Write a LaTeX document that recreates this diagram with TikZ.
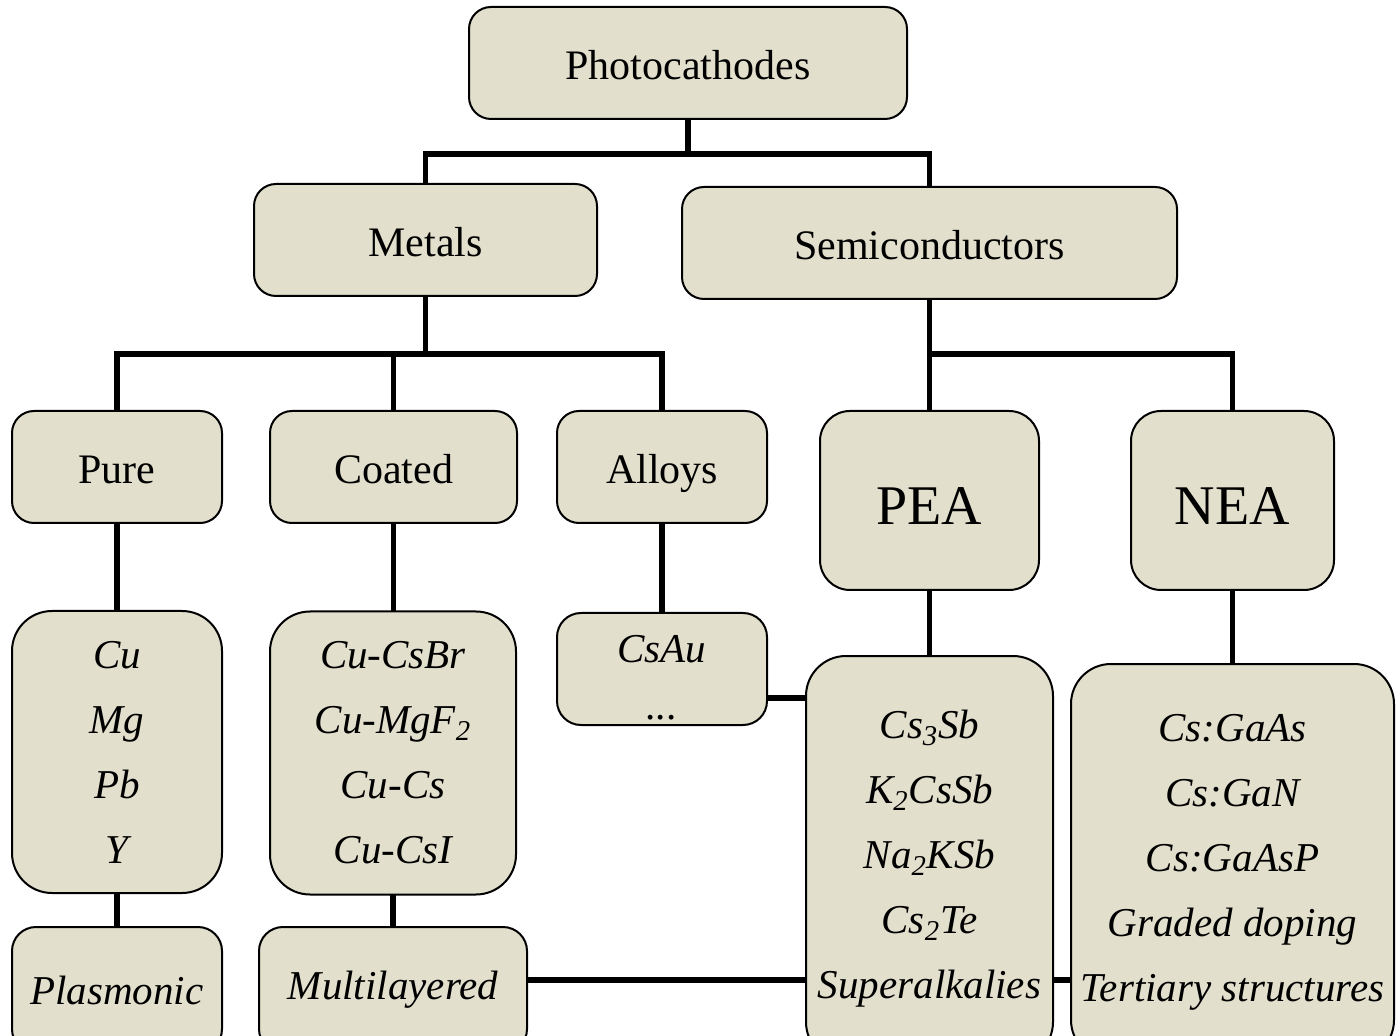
\documentclass[tikz,border=0pt]{standalone}
\usepackage{fontspec}
\setmainfont{Liberation Serif}
\usetikzlibrary{backgrounds}
\definecolor{boxfill}{RGB}{226,223,204}
\tikzset{
  basebox/.style={draw=black, line width=1pt, fill=boxfill, rounded corners=11pt, inner sep=0pt, align=center},
  box/.style={basebox, font=\fontsize{21}{26}\selectfont, text height=20pt, text depth=3pt},
  listbox/.style={basebox, rounded corners=20pt, font=\fontsize{20.5}{32.5}\selectfont\itshape},
  bigbox/.style={basebox, rounded corners=15pt, font=\fontsize{28}{34}\selectfont, text height=28pt, text depth=3.5pt},
  conn/.style={line width=2.6pt, line cap=rect},
  sz/.style 2 args={minimum width=#1*0.5pt, minimum height=#2*0.5pt},
}
\begin{document}
\begin{tikzpicture}[x=0.5pt, y=-0.5pt]
\path[use as bounding box, clip] (0,0) rectangle (1396,1036);
\node[box, sz={438}{112}] (photo) at (688,63) {Photocathodes};
\node[box, sz={343}{112}] (metals) at (425.5,240) {Metals};
\node[box, sz={495}{112}] (semi) at (929.5,243) {Semiconductors};
\node[box, sz={210}{112}] (pure) at (117,467) {Pure};
\node[box, sz={247}{112}] (coated) at (393.5,467) {Coated};
\node[box, sz={210}{112}] (alloys) at (662,467) {Alloys};
\node[bigbox, sz={219}{179}] (pea) at (929.5,500.5) {PEA};
\node[bigbox, sz={203}{179}] (nea) at (1232.5,500.5) {NEA};
\node[listbox, sz={210}{282}] (culist) at (117,752) {Cu\\Mg\\Pb\\Y};
\node[listbox, sz={246}{283}] (coatlist) at (393,753) {Cu-CsBr\\Cu-MgF\textsubscript{2}\\Cu-Cs\\Cu-CsI};
\node[listbox, rounded corners=12pt, font=\fontsize{20.5}{28.5}\selectfont\itshape, sz={210}{112}] (csau) at (662,669) {\rule{0pt}{22pt}CsAu\\...};
\node[listbox, sz={247}{406}] (pealist) at (929.5,859) {Cs\textsubscript{3}Sb\\K\textsubscript{2}CsSb\\Na\textsubscript{2}KSb\\Cs\textsubscript{2}Te\\Superalkalies};
\node[listbox, sz={323}{396}] (nealist) at (1232.5,862) {Cs:GaAs\\Cs:GaN\\Cs:GaAsP\\Graded doping\\Tertiary structures};
\node[listbox, rounded corners=12pt, sz={210}{126}] (plasm) at (117,990) {Plasmonic};
\node[listbox, rounded corners=12pt, sz={268}{126}] (multi) at (393,990) {Multilayered};
\begin{scope}[on background layer]
\draw[conn] (photo.south) -- ++(0,34) -| (metals.north);
\draw[conn] (photo.south) -- ++(0,34) -| (semi.north);
\draw[conn] (metals.south) -- ++(0,57) -| (pure.north);
\draw[conn] (metals.south) -- ++(0,57) -| (coated.north);
\draw[conn] (metals.south) -- ++(0,57) -| (alloys.north);
\draw[conn] (semi.south) -- ++(0,54) -| (pea.north);
\draw[conn] (semi.south) -- ++(0,54) -| (nea.north);
\draw[conn] (pure.south) -- (culist.north -| pure.south);
\draw[conn] (coated.south) -- (coatlist.north -| coated.south);
\draw[conn] (alloys.south) -- (csau.north);
\draw[conn] (pea.south) -- (pealist.north -| pea.south);
\draw[conn] (nea.south) -- (nealist.north -| nea.south);
\draw[conn] (culist.south) -- (plasm.north);
\draw[conn] (coatlist.south) -- (multi.north);
\draw[conn] ([yshift=-14.5pt]csau.east) -- ([yshift=-14.5pt]csau.east -| pealist.west);
\draw[conn] ([yshift=5pt]multi.east) -- ([yshift=5pt]multi.east -| pealist.west);
\draw[conn] ([yshift=5pt]multi.east -| pealist.east) -- ([yshift=5pt]multi.east -| nealist.west);
\end{scope}
\end{tikzpicture}
\end{document}
